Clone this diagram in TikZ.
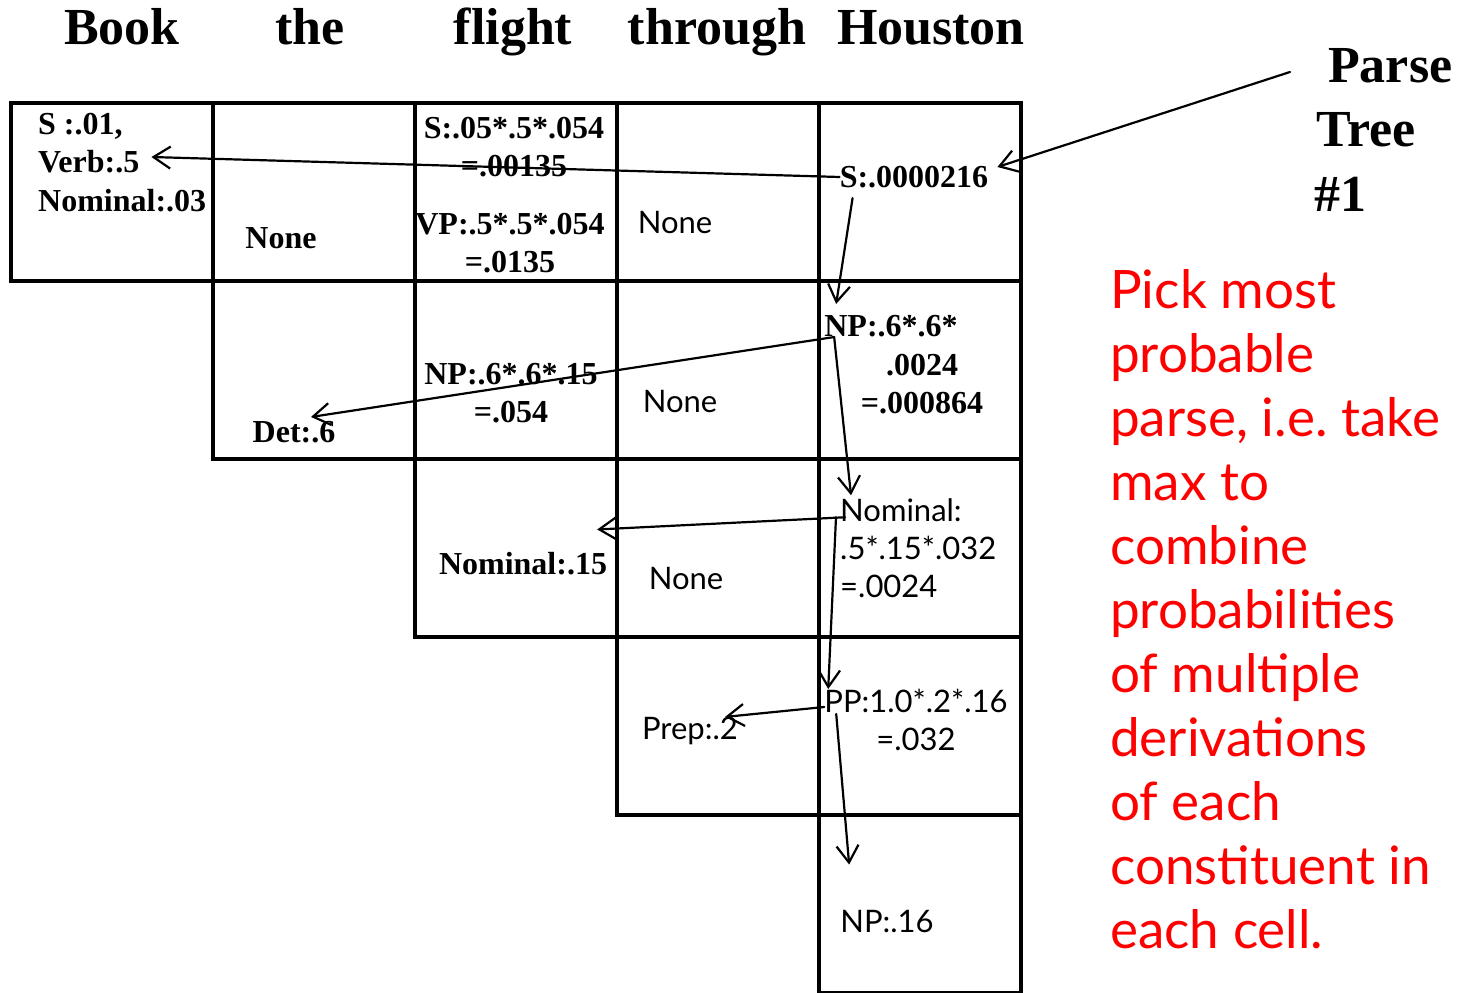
\documentclass[tikz,border=0pt]{standalone}
\usepackage{fontspec}
\setmainfont{Liberation Serif}
\newfontfamily\sansfam{Lato}
\usetikzlibrary{calc,arrows.meta}
\definecolor{pickRed}{HTML}{FF0000}

\tikzset{
  cell/.style={draw, line width=4pt},
  hdr/.style={inner sep=0, font=\bfseries\fontsize{52}{60}\selectfont},
  bnum/.style={inner sep=0, align=center, font=\bfseries\fontsize{32}{38}\selectfont},
  snum/.style={inner sep=0, align=center, font=\sansfam\fontsize{31}{38}\selectfont},
  back/.style={line width=2.2pt, line cap=round, -{Straight Barb[length=17pt,width=22pt]}},
  redline/.style={inner sep=0, anchor=base west, text=pickRed,
                  font=\sansfam\fontsize{53}{64}\selectfont},
}

\begin{document}
\begin{tikzpicture}[x=1pt, y=-1pt]
\useasboundingbox (0,0) rectangle (1468,993);

% dimensions
\def\cw{202}   % cell width
\def\rh{178}   % cell height
\def\xo{11}    % left edge of chart
\def\yo{103}   % top edge of chart

% --- chart cells (upper triangle) ---
\foreach \r in {0,...,4}{
  \foreach \c in {\r,...,4}{
    \draw[cell] (\xo+\c*\cw, \yo+\r*\rh) rectangle ++(\cw,\rh);
  }
}

% --- words ---
\node[hdr, anchor=base] (hBook)    at (122,45) {Book};
\node[hdr, anchor=base] (hThe)     at (310,45) {the};
\node[hdr, anchor=base] (hFlight)  at (513,45) {flight};
\node[hdr, anchor=base] (hThrough) at (717,45) {through};
\node[hdr, anchor=base] (hHouston) at (931,45) {Houston};

% --- row 1 ---
\node[bnum, anchor=west] (s01)   at (38,126) {S :.01,};
\node[bnum, anchor=west] (verb)  at (38,162) {Verb:.5};
\node[bnum, anchor=west] (nom03) at (38,201) {Nominal:.03};
\node[bnum] (none12) at (281,238) {None};
\node[bnum] (s00135) at (514,147) {S:.05*.5*.054\\=.00135};
\node[bnum] (vp0135) at (510,243) {VP:.5*.5*.054\\=.0135};
\node[snum] (none14) at (675,223) {None};
\node[bnum] (s0216)  at (914,177) {S:.0000216};

% --- row 2 ---
\node[bnum] (det)    at (294,432) {Det:.6};
\node[bnum] (np054)  at (511,393) {NP:.6*.6*.15\\=.054};
\node[snum] (none24) at (680,401) {None};
\node[bnum] (np06)   at (891,326) {NP:.6*.6*};
\node[bnum] (np06b)  at (922,384) {.0024\\=.000864};

% --- row 3 ---
\node[bnum] (nom15)  at (523,564) {Nominal:.15};
\node[snum] (none34) at (686,578) {None};
\node[snum, align=left, anchor=west] (nomL) at (840,548)
  {Nominal:\\.5*.15*.032\\=.0024};

% --- row 4 ---
\node[snum] (prep) at (690,731) {Prep:.2};
\node[snum] (pp)   at (916,720) {PP:1.0*.2*.16\\=.032};

% --- row 5 ---
\node[snum] (np16) at (887,921) {NP:.16};

% --- back pointers ---
\draw[back] (s0216.west) -- ($(verb.east)+(12,-5)$);
\draw[back] ($(s0216.south west)+(13,10)$) -- ($(np06.north west)+(12,-11)$);
\draw[back] ($(np06.south west)+(10,0)$) -- ($(det.north)+(17,-4)$);
\draw[back] ($(np06.south west)+(10,0)$) -- ($(nomL.north west)+(11,-3)$);
\draw[back] ($(nomL.north west)+(5,19)$) -- ($(nom15.north east)+(-10,-23)$);
\draw[back] ($(nomL.north west)+(-4,19)$) -- ($(pp.north west)+(4,0)$);
\draw[back] ($(pp.north west)+(0,18)$) -- ($(prep.north east)+(-13,0)$);
\draw[back] ($(pp.north west)+(12,25)$) -- ($(np16.north west)+(9,-45)$);

% --- label ---
\node[hdr, anchor=west] (parse) at (1328,66)  {Parse};
\node[hdr, anchor=west] (tree)  at (1316,130) {Tree};
\node[hdr, anchor=west] (num1)  at (1314,194) {\#1};
\draw[back] ($(parse.west)+(-38,6)$) -- ($(s0216.east)+(9,-10)$);

% --- note ---
\foreach \t [count=\i] in {Pick most, probable, {parse, i.e.\ take}, max to,
    combine, probabilities, of multiple, derivations, of each,
    constituent in, each cell.}{
  \node[redline] (red\i) at (1110, 244+64*\i) {\t};
}

\end{tikzpicture}
\end{document}
